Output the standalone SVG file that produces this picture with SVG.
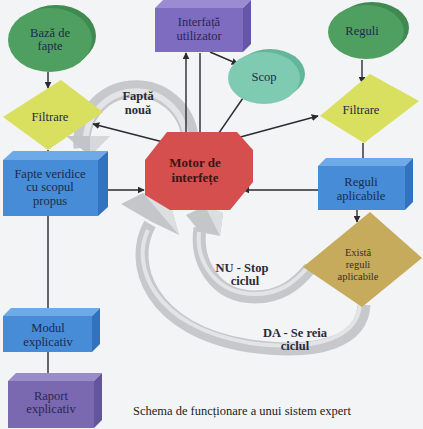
<svg xmlns="http://www.w3.org/2000/svg" width="423" height="429" viewBox="0 0 423 429" font-family="Liberation Serif, Times New Roman, serif">
<style>
.t{text-anchor:middle;fill:#1e2a4e}
.s{fill:#3a3020}
.b{font-weight:bold;fill:#2a2a3a}
.band{fill:none;stroke:#c6c8cb;stroke-linecap:butt}
.bandhi{fill:none;stroke:#e2e4e6;stroke-linecap:butt}
.c{stroke:#2a2a30;stroke-width:1.4;fill:none;marker-end:url(#ah)}
</style>
<defs>
<marker id="ah" viewBox="0 0 10 10" refX="9" refY="5" markerWidth="7" markerHeight="7" orient="auto" markerUnits="userSpaceOnUse">
<path d="M0,0 L10,5 L0,10 z" fill="#2a2a30"/>
</marker>
</defs>
<rect width="423" height="429" fill="#f2f4f5"/>

<g id="gray-arrows">
<path class="band" stroke-width="17" d="M 82 148 A 54 54 0 1 1 190 138"/>
<path class="bandhi" stroke-width="6" d="M 86 145 A 50 50 0 1 1 186 138"/>
<polygon points="66,136 110,136 90,156" fill="#c2c4c7"/>
<polygon points="90,136 110,136 90,156" fill="#d6d8da"/>
<path class="band" stroke-width="13" d="M 200 228 C 195 262, 215 297, 255 297 C 280 297, 296 285, 310 268"/>
<path class="bandhi" stroke-width="4" d="M 199 232 C 196 262, 216 294, 255 294 C 279 294, 294 283, 307 268"/>
<path class="band" stroke-width="13" d="M 150 224 C 128 262, 148 330, 250 346 C 322 356, 362 340, 364 305"/>
<path class="bandhi" stroke-width="4" d="M 148 230 C 131 264, 152 327, 250 343 C 318 352, 357 337, 360 305"/>
<polygon points="121,204 143,193 170,203 179,235 152,222" fill="#c4c6c9"/>
<polygon points="143,193 170,203 179,235" fill="#dcdee0"/>
<polygon points="186,215 205,206 223,213 220,236 200,232" fill="#c4c6c9"/>
<polygon points="205,206 223,213 220,236" fill="#dcdee0"/>
</g>

<g id="connectors">
<line class="c" x1="48" y1="72" x2="48" y2="88"/>
<line class="c" x1="48" y1="150" x2="48" y2="160"/>
<line class="c" x1="97" y1="190" x2="144" y2="190"/>
<line class="c" x1="163" y1="142" x2="93" y2="124"/>
<line class="c" x1="186" y1="141" x2="186" y2="53"/>
<line class="c" x1="200" y1="53" x2="200" y2="143"/>
<line class="c" x1="210" y1="52" x2="238" y2="64"/>
<line class="c" x1="243" y1="98" x2="212" y2="143"/>
<line class="c" x1="222" y1="142" x2="318" y2="116"/>
<line class="c" x1="362" y1="60" x2="362" y2="83"/>
<line class="c" x1="363" y1="143" x2="363" y2="166"/>
<line class="c" x1="318" y1="190" x2="243" y2="190"/>
<line class="c" x1="357" y1="210" x2="357" y2="222"/>
<line class="c" x1="48" y1="216" x2="48" y2="316"/>
<line class="c" x1="48" y1="352" x2="48" y2="380"/>
</g>

<g id="baza-de-fapte">
<ellipse cx="56" cy="36" rx="40" ry="31" fill="#3f8a50"/>
<ellipse cx="50" cy="40" rx="42" ry="32" fill="#4f9f60"/>
<text class="t" font-size="12.5" x="50" y="37">Bază de</text>
<text class="t" font-size="12.5" x="50" y="50">fapte</text>
</g>

<g id="filtrare-stanga">
<polygon points="61,80 103,112 48,150 3,117" fill="#d9df5e"/>
<text class="t" font-size="12.5" x="50" y="121">Filtrare</text>
</g>

<g id="fapte-veridice">
<polygon points="3,160 13,151 108,151 98,160" fill="#6ea9e8"/>
<polygon points="98,160 108,151 108,207 98,216" fill="#3273c0"/>
<rect x="3" y="160" width="95" height="56" fill="#468cd6"/>
<text class="t" font-size="12.5" x="50" y="178">Fapte veridice</text>
<text class="t" font-size="12.5" x="50" y="191">cu scopul</text>
<text class="t" font-size="12.5" x="50" y="205">propus</text>
</g>

<g id="interfata-utilizator">
<polygon points="155,8 163,0 251,0 243,8" fill="#9a8cd2"/>
<polygon points="243,8 251,0 251,44 243,52" fill="#6556a8"/>
<rect x="155" y="8" width="88" height="44" fill="#7d6cc0"/>
<text class="t" font-size="12.5" x="199" y="26" style="fill:#2d2650">Interfață</text>
<text class="t" font-size="12.5" x="199" y="40" style="fill:#2d2650">utilizator</text>
</g>

<g id="scop">
<ellipse cx="270" cy="74" rx="35" ry="25" fill="#62b79b"/>
<ellipse cx="264" cy="78" rx="36" ry="26" fill="#7fcbb1"/>
<text class="t" font-size="12.5" x="264" y="81">Scop</text>
</g>

<g id="reguli">
<ellipse cx="372" cy="28" rx="37" ry="26" fill="#3f8a50"/>
<ellipse cx="366" cy="32" rx="38" ry="27" fill="#4f9f60"/>
<text class="t" font-size="12.5" x="362" y="35">Reguli</text>
</g>

<g id="filtrare-dreapta">
<polygon points="370,74 419,101 364,143 320,116" fill="#d9df5e"/>
<text class="t" font-size="12.5" x="361" y="114">Filtrare</text>
</g>

<g id="motor-de-interfete">
<polygon points="167,132 237,132 253,150 253,182 230,210 170,210 145,195 145,160" fill="#d44f4e"/>
<text class="t b" font-size="13" x="195" y="167" style="fill:#3a1515">Motor de</text>
<text class="t b" font-size="13" x="195" y="182" style="fill:#3a1515">interfețe</text>
</g>

<g id="reguli-aplicabile">
<polygon points="318,166 326,158 413,158 405,166" fill="#6ea9e8"/>
<polygon points="405,166 413,158 413,202 405,210" fill="#3273c0"/>
<rect x="318" y="166" width="87" height="44" fill="#468cd6"/>
<text class="t" font-size="12.5" x="361" y="186">Reguli</text>
<text class="t" font-size="12.5" x="361" y="200">aplicabile</text>
</g>

<g id="exista-reguli-aplicabile">
<polygon points="370,212 422,258 362,307 303,267" fill="#c6ab5c"/>
<text class="t s" font-size="10.5" x="358" y="256">Există</text>
<text class="t s" font-size="10.5" x="358" y="268">reguli</text>
<text class="t s" font-size="10.5" x="358" y="280">aplicabile</text>
</g>

<g id="modul-explicativ">
<polygon points="3,316 11,308 100,308 92,316" fill="#6ea9e8"/>
<polygon points="92,316 100,308 100,344 92,352" fill="#3273c0"/>
<rect x="3" y="316" width="89" height="36" fill="#468cd6"/>
<text class="t" font-size="12.5" x="48" y="332">Modul</text>
<text class="t" font-size="12.5" x="48" y="346">explicativ</text>
</g>

<g id="raport-explicativ">
<polygon points="8,381 16,373 102,373 94,381" fill="#9a8cc6"/>
<polygon points="94,381 102,373 102,420 94,428" fill="#64549a"/>
<rect x="8" y="381" width="86" height="47" fill="#7a69b0"/>
<text class="t" font-size="12.5" x="51" y="400" style="fill:#2d2650">Raport</text>
<text class="t" font-size="12.5" x="51" y="413" style="fill:#2d2650">explicativ</text>
</g>

<g id="labels">
<text class="t b" font-size="12.5" x="138" y="100">Faptă</text>
<text class="t b" font-size="12.5" x="138" y="114">nouă</text>
<text class="t b" font-size="12.5" x="242" y="272">NU - Stop</text>
<text class="t b" font-size="12.5" x="245" y="285">ciclul</text>
<text class="t b" font-size="12.5" x="295" y="337">DA - Se reia</text>
<text class="t b" font-size="12.5" x="295" y="350">ciclul</text>
<text x="133" y="415" font-size="12.5" fill="#222">Schema de funcționare a unui sistem expert</text>
</g>
</svg>
